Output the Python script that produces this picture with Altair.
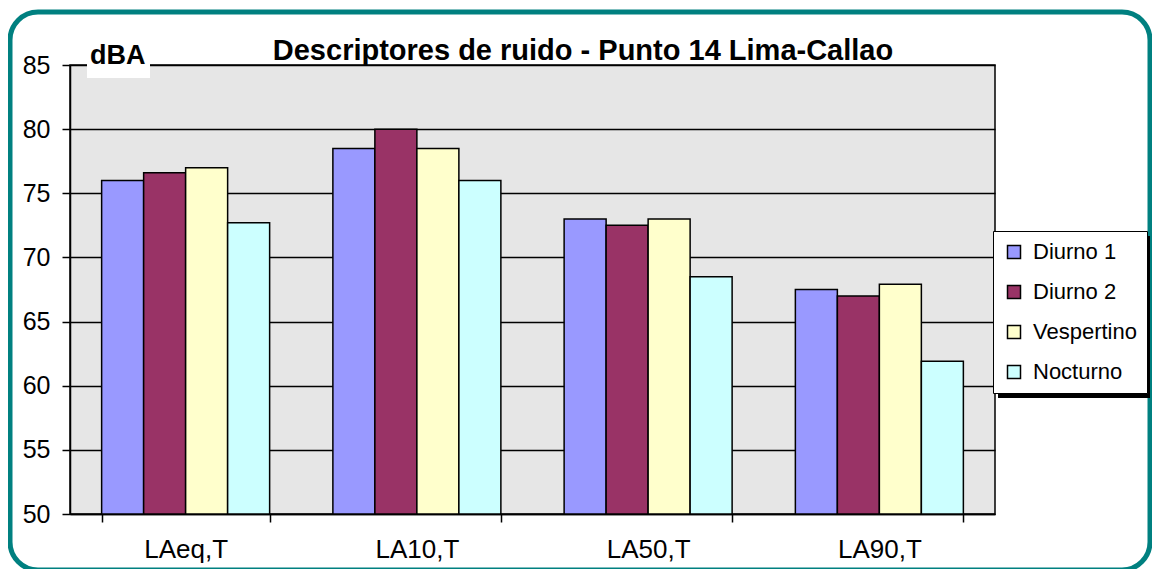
import altair as alt
import pandas as pd

categories = ["LAeq,T", "LA10,T", "LA50,T", "LA90,T"]
series = ["Diurno 1", "Diurno 2", "Vespertino", "Nocturno"]
diurno1 = [76.0, 78.5, 73.0, 67.5]
diurno2 = [76.6, 80.0, 72.5, 67.0]
vespertino = [77.0, 78.5, 73.0, 67.9]
nocturno = [72.7, 76.0, 68.5, 61.9]
colors = ["#9999FF", "#993366", "#FFFFCC", "#CCFFFF"]
y_ticks = [50, 55, 60, 65, 70, 75, 80, 85]
title_text = "Descriptores de ruido - Punto 14 Lima-Callao"
unit_text = "dBA"

rows = []
for s, vals in zip(series, [diurno1, diurno2, vespertino, nocturno]):
    for c, v in zip(categories, vals):
        rows.append({"cat": c, "serie": s, "val": v})
df = pd.DataFrame(rows)

FONT = "Arial, Liberation Sans"
one = pd.DataFrame({"k": [0]})

frame = alt.Chart(one).mark_rect(
    fill=None, stroke="#008080", strokeWidth=5, cornerRadius=28
).encode(x=alt.value(-60), x2=alt.value(1080), y=alt.value(-53), y2=alt.value(505))

whitebox = alt.Chart(one).mark_rect(fill="white").encode(
    x=alt.value(17), x2=alt.value(80), y=alt.value(-22), y2=alt.value(13)
)

shadow = alt.Chart(one).mark_rect(fill="black").encode(
    x=alt.value(928), x2=alt.value(1080), y=alt.value(171), y2=alt.value(333)
)

bars = alt.Chart(df).mark_bar(stroke="black", strokeWidth=1.5).encode(
    x=alt.X("cat:N", sort=categories, title=None,
            scale=alt.Scale(paddingInner=0.2735, paddingOuter=0.1368),
            axis=alt.Axis(labelAngle=0, tickBand="extent", tickSize=8,
                          tickColor="black", tickWidth=1.5, domainColor="black",
                          domainWidth=1.5, labelFontSize=26, labelFont=FONT,
                          labelColor="black", labelPadding=14, grid=False)),
    xOffset=alt.XOffset("serie:N", sort=series, scale=alt.Scale(paddingInner=0, paddingOuter=0)),
    y=alt.Y("val:Q", title=None,
            scale=alt.Scale(domain=[50, 85], nice=False, zero=False),
            axis=alt.Axis(values=y_ticks, tickSize=8, tickColor="black", tickWidth=1.5,
                          domainColor="black", domainWidth=1.5, labelFontSize=25,
                          labelFont=FONT, labelColor="black", labelPadding=12,
                          grid=True, gridColor="black", gridWidth=1.5, gridOpacity=1)),
    y2=alt.datum(50),
    color=alt.Color("serie:N", sort=series,
                    scale=alt.Scale(domain=series, range=colors),
                    legend=alt.Legend(title=None, orient="none", legendX=923, legendY=166,
                                      symbolType="square", symbolSize=169,
                                      symbolStrokeColor="black", symbolStrokeWidth=1.5,
                                      labelFontSize=22, labelFont=FONT, labelColor="black",
                                      strokeColor="black", fillColor="white",
                                      padding=10, rowPadding=18, labelOffset=8)),
)

dba = alt.Chart(one).mark_text(
    text=unit_text, fontSize=27, fontWeight="bold", font=FONT, align="left",
    baseline="alphabetic", color="black"
).encode(x=alt.value(20), y=alt.value(-1))

title = alt.Chart(one).mark_text(
    text=title_text, fontSize=29, fontWeight="bold", font=FONT, align="center",
    baseline="alphabetic", color="black"
).encode(x=alt.value(513), y=alt.value(-5))

chart = alt.layer(frame, whitebox, shadow, bars, dba, title).properties(
    width=925, height=449,
    autosize=alt.AutoSizeParams(type="none"),
    padding={"left": 62, "top": 57, "right": 157, "bottom": 55},
    background="white",
).configure_view(fill="#e6e6e6", stroke="black", strokeWidth=1.5)

chart.save("out.html", embed_options={"renderer": "svg", "actions": False})
